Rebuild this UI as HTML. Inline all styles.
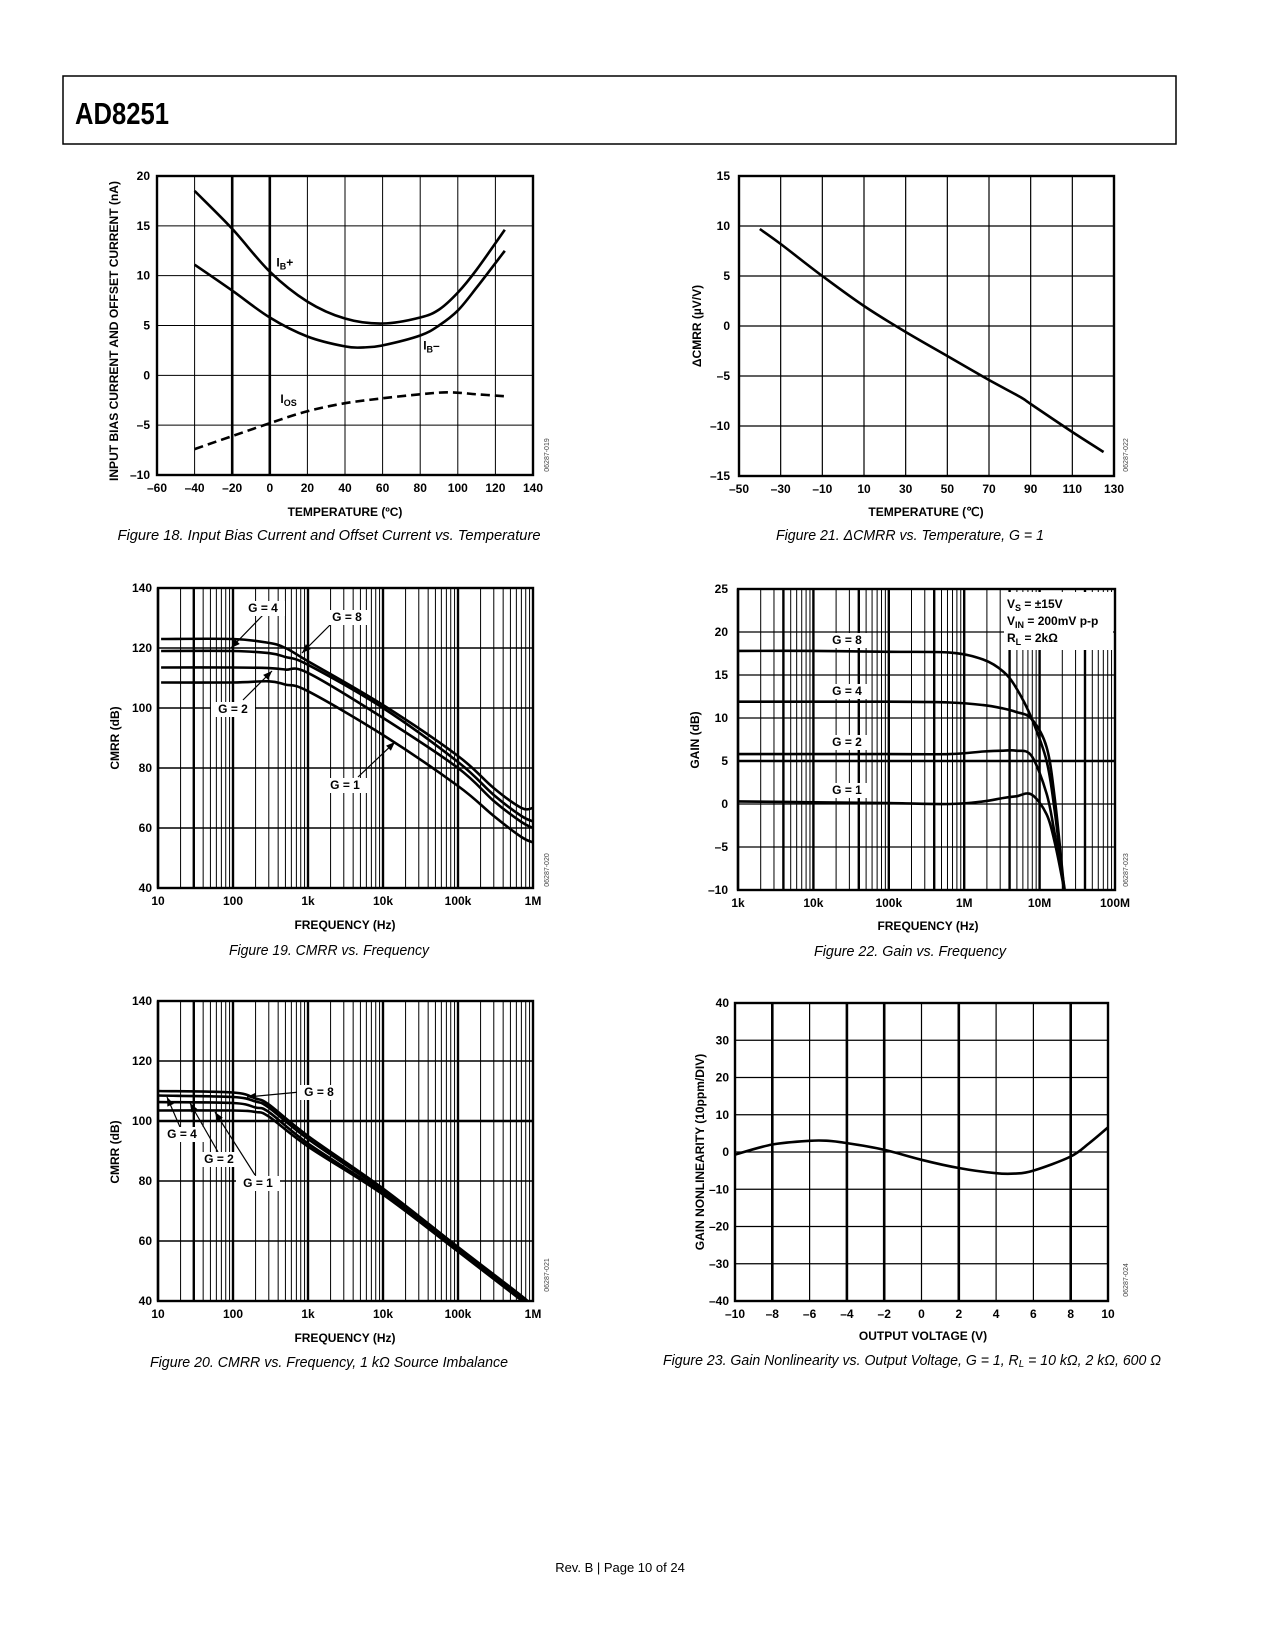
<!DOCTYPE html>
<html><head><meta charset="utf-8"><style>
html,body{margin:0;padding:0;background:#fff}
svg{display:block}
.t{font-family:"Liberation Sans",sans-serif;font-weight:bold;font-size:12px;fill:#000}
.cap{font-family:"Liberation Sans",sans-serif;font-style:italic;font-size:14.5px;fill:#000}
.wm{font-family:"Liberation Sans",sans-serif;font-size:7px;fill:#444}
</style></head><body>
<svg id="page" xmlns="http://www.w3.org/2000/svg" width="1275" height="1650" viewBox="0 0 1275 1650">
<rect x="0" y="0" width="1275" height="1650" fill="#fff"/>
<rect x="63" y="76" width="1113" height="68" fill="none" stroke="#000" stroke-width="1.5"/>
<text x="75" y="124" font-family="'Liberation Sans Narrow','Liberation Sans',sans-serif" font-weight="bold" font-size="31" textLength="94" lengthAdjust="spacingAndGlyphs">AD8251</text>

<g id="c1"></g>
<g id="c2"></g>
<g id="c3"></g>
<g id="c4"></g>
<g id="c5"></g>
<g id="c6"></g>

<!-- axis titles -->
<text class="t" font-size="11.5" transform="translate(118,331) rotate(-90)" text-anchor="middle" textLength="300" lengthAdjust="spacingAndGlyphs">INPUT BIAS CURRENT AND OFFSET CURRENT (nA)</text>
<text class="t" x="345" y="516" text-anchor="middle">TEMPERATURE (ºC)</text>
<text class="t" transform="translate(701,326) rotate(-90)" text-anchor="middle">ΔCMRR (µV/V)</text>
<text class="t" x="926" y="516" text-anchor="middle">TEMPERATURE (℃)</text>
<text class="t" transform="translate(119,738) rotate(-90)" text-anchor="middle">CMRR (dB)</text>
<text class="t" x="345" y="929" text-anchor="middle">FREQUENCY (Hz)</text>
<text class="t" transform="translate(699,740) rotate(-90)" text-anchor="middle">GAIN (dB)</text>
<text class="t" x="928" y="930" text-anchor="middle">FREQUENCY (Hz)</text>
<text class="t" transform="translate(119,1152) rotate(-90)" text-anchor="middle">CMRR (dB)</text>
<text class="t" x="345" y="1342" text-anchor="middle">FREQUENCY (Hz)</text>
<text class="t" transform="translate(704,1152) rotate(-90)" text-anchor="middle">GAIN NONLINEARITY (10ppm/DIV)</text>
<text class="t" x="923" y="1340" text-anchor="middle">OUTPUT VOLTAGE (V)</text>

<!-- captions -->
<text class="cap" x="329" y="540" text-anchor="middle" textLength="423" lengthAdjust="spacingAndGlyphs">Figure 18. Input Bias Current and Offset Current vs. Temperature</text>
<text class="cap" x="910" y="540" text-anchor="middle" textLength="268" lengthAdjust="spacingAndGlyphs">Figure 21. ΔCMRR vs. Temperature, G = 1</text>
<text class="cap" x="329" y="955" text-anchor="middle" textLength="200" lengthAdjust="spacingAndGlyphs">Figure 19. CMRR vs. Frequency</text>
<text class="cap" x="910" y="956" text-anchor="middle" textLength="192" lengthAdjust="spacingAndGlyphs">Figure 22. Gain vs. Frequency</text>
<text class="cap" x="329" y="1367" text-anchor="middle" textLength="358" lengthAdjust="spacingAndGlyphs">Figure 20. CMRR vs. Frequency, 1 kΩ Source Imbalance</text>
<text class="cap" x="912" y="1365" text-anchor="middle" textLength="498" lengthAdjust="spacingAndGlyphs">Figure 23. Gain Nonlinearity vs. Output Voltage, G = 1, R<tspan font-size="10" dy="2">L</tspan><tspan dy="-2"> = 10 kΩ, 2 kΩ, 600 Ω</tspan></text>
<text x="620" y="1572" text-anchor="middle" font-family="'Liberation Sans',sans-serif" font-size="13">Rev. B | Page 10 of 24</text>
</svg>
<script>
// ---------- Chart data ----------
// Fig 18
const c1Temp = [-40,-20,0,20,40,60,80,90,100,110,125];
const c1IBplus = [18.5,14.7,10.4,7.4,5.7,5.2,5.8,6.6,8.3,10.6,14.6];
const c1TempM = [-40,-20,0,20,40,50,60,80,90,100,110,125];
const c1IBminus = [11.1,8.5,5.8,3.9,2.9,2.8,3.0,4.0,5.0,6.5,8.8,12.5];
const c1TempO = [-40,-20,0,20,40,60,80,95,110,125];
const c1IOS = [-7.4,-6.1,-4.8,-3.6,-2.8,-2.3,-1.9,-1.7,-1.9,-2.1];
const c1XTicks = [-60,-40,-20,0,20,40,60,80,100,120,140];
const c1YTicks = [20,15,10,5,0,-5,-10];
// Fig 21
const c2Temp = [-40,-30,-10,10,30,50,70,85,90,110,125];
const c2DCMRR = [9.7,8.2,5.0,2.0,-0.6,-3.0,-5.4,-7.1,-7.8,-10.6,-12.6];
const c2XTicks = [-50,-30,-10,10,30,50,70,90,110,130];
const c2YTicks = [15,10,5,0,-5,-10,-15];
// Fig 19
const c3Freq = [11,100,300,500,1000,10000,100000,300000,700000,1000000];
const c3CurveA = [123,123,121.7,120,115.6,101,84,73.3,66.7,66.7];
const c3CurveB = [119,119,118.3,117,114.4,100,82,71,64,62.2];
const c3CurveC = [113.5,113.5,113.3,112.8,111.7,96.7,80,69,62,60];
const c3CurveD = [108.5,108.5,108.9,107.8,105.6,91,74,64,57,55.2];
const c3XTicks = [10,100,1000,10000,100000,1000000];
const c3XLabels = ['10','100','1k','10k','100k','1M'];
const c3YTicks = [140,120,100,80,60,40];
// Fig 22
const c4Freq = [1000,10000,100000,645000,1780000,3300000,4900000,7800000,12400000,15900000,20600000,23000000];
const c4G8 = [17.8,17.8,17.7,17.6,16.8,15.4,13.5,10,5,-0.9,-9.4,-14];
const c4G4 = [11.9,11.9,11.9,11.8,11.5,11.1,10.7,9.9,6.6,0.6,-8.9,-13];
const c4G2 = [5.8,5.8,5.8,5.8,6.1,6.2,6.2,5.6,1.2,-3.5,-8.9,-12];
const c4G1 = [0.3,0.2,0.1,0.0,0.3,0.7,0.9,1.1,-1.2,-4.5,-9.4,-12];
const c4XTicks = [1000,10000,100000,1000000,10000000,100000000];
const c4XLabels = ['1k','10k','100k','1M','10M','100M'];
const c4YTicks = [25,20,15,10,5,0,-5,-10];
// Fig 20
const c5Freq = [10,100,200,300,1000,10000,100000,720000,800000];
const c5G8 = [110,109.5,107.5,105.5,95,77.5,58,41.5,40];
const c5G4 = [108.5,108,106.5,104.5,94,76.8,57.5,41,39.6];
const c5G2 = [106.3,106,104.5,103,92.5,76,57,40.5,39.3];
const c5G1 = [103.5,103.5,103,101.5,91.5,75.5,56.5,40,39];
const c5YTicks = [140,120,100,80,60,40];
// Fig 23
const c6Vout = [-10,-8,-6,-5,-4,-2,0,2,4,5,6,8,9,10];
const c6NL = [-0.7,2.0,3.0,3.0,2.4,0.6,-2.1,-4.3,-5.7,-5.8,-5.0,-1.2,2.4,6.6];
const c6XTicks = [-10,-8,-6,-4,-2,0,2,4,6,8,10];
const c6YTicks = [40,30,20,10,0,-10,-20,-30,-40];

// ---------- helpers ----------
const NS='http://www.w3.org/2000/svg';
function mk(tag, attrs, parent){const e=document.createElementNS(NS,tag);for(const k in attrs)e.setAttribute(k,attrs[k]);parent.appendChild(e);return e;}
function lin(d0,d1,r0,r1){return v=>r0+(v-d0)/(d1-d0)*(r1-r0);}
function lg(d0,d1,r0,r1){return v=>r0+(Math.log10(v)-Math.log10(d0))/(Math.log10(d1)-Math.log10(d0))*(r1-r0);}
function smooth(pts){
  let d='M'+pts[0][0].toFixed(1)+','+pts[0][1].toFixed(1);
  for(let i=0;i<pts.length-1;i++){
    const p0=pts[i-1]||pts[i],p1=pts[i],p2=pts[i+1],p3=pts[i+2]||pts[i+1];
    const c1=[p1[0]+(p2[0]-p0[0])/6,p1[1]+(p2[1]-p0[1])/6];
    const c2=[p2[0]-(p3[0]-p1[0])/6,p2[1]-(p3[1]-p1[1])/6];
    d+=' C'+c1[0].toFixed(1)+','+c1[1].toFixed(1)+' '+c2[0].toFixed(1)+','+c2[1].toFixed(1)+' '+p2[0].toFixed(1)+','+p2[1].toFixed(1);
  }
  return d;
}
function vline(g,x,b,w,name){
  const l=mk('line',{x1:x,x2:x,y1:b.t,y2:b.b,stroke:'#000','stroke-width':w},g);
  
  
}
function hline(g,y,b,w,name){
  const l=mk('line',{x1:b.l,x2:b.r,y1:y,y2:y,stroke:'#000','stroke-width':w},g);
  
  
}
function frame(g,b){
  const r=mk('rect',{x:b.l,y:b.t,width:b.r-b.l,height:b.b-b.t,fill:'none',stroke:'#000','stroke-width':2.4},g);
  
  
}
function xLabels(g,xs,vals,labels,y){
  vals.forEach((v,i)=>{
    const t=mk('text',{x:xs(v),y:y,'text-anchor':'middle',class:'t'},g);
    t.textContent=labels?labels[i]:String(v).replace('-','–');
    
    
  });
}
function yLabels(g,ys,vals,x){
  vals.forEach(v=>{
    const t=mk('text',{x:x,y:ys(v)+4,'text-anchor':'end',class:'t'},g);
    t.textContent=String(v).replace('-','–');
    
    
  });
}
function curve(g,xs,ys,X,Y,name,dash,clip){
  const pts=X.map((x,i)=>[xs(x),ys(Y[i])]);
  const a={d:smooth(pts),fill:'none',stroke:'#000','stroke-width':2.6,'stroke-linejoin':'round'};
  if(dash)a['stroke-dasharray']=dash;
  if(clip)a['clip-path']=clip;
  const p=mk('path',a,g);
  
  
}
function label(g,x,y,txt,name,bg){
  if(bg){const r=mk('rect',{x:x-22,y:y-11,width:44,height:15,fill:'#fff'},g);
    
    }
  const t=mk('text',{x:x,y:y,'text-anchor':'middle',class:'t'},g);
  t.textContent=txt;
  
  
  return t;
}
function arrow(g,x1,y1,x2,y2,name){
  const l=mk('line',{x1:x1,y1:y1,x2:x2,y2:y2,stroke:'#000','stroke-width':1.2},g);
  
  
  const a=Math.atan2(y2-y1,x2-x1),L=9,W=3.5;
  const bx=x2-L*Math.cos(a),by=y2-L*Math.sin(a);
  const p=mk('polygon',{points:`${x2},${y2} ${bx-W*Math.sin(a)},${by+W*Math.cos(a)} ${bx+W*Math.sin(a)},${by-W*Math.cos(a)}`,fill:'#000'},g);
  
  
}
function wm(g,x,y,txt){
  const t=mk('text',{class:'wm',transform:`translate(${x},${y}) rotate(-90)`,'text-anchor':'middle'},g);
  t.textContent=txt;
  
  
}
function logGrid(g,b,xs,d0,d1,thickExtra){
  for(let d=d0;d<d1;d*=10){
    for(let k=1;k<10;k++){
      const f=d*k;
      const thick=(k===1)||(thickExtra&&thickExtra(f));
      vline(g,xs(f),b,thick?2.4:1,'grid-vertical');
    }
  }
}

// ---------- Chart 1 ----------
(function(){
  const g=document.getElementById('c1');
  const b={l:157,r:533,t:176,b:475};
  const xs=lin(-60,140,b.l,b.r), ys=lin(20,-10,b.t,b.b);
  c1XTicks.forEach(v=>{ if(v>-60&&v<140) vline(g,xs(v),b,(v===-20||v===0)?2.6:1,'grid-vertical'); });
  c1YTicks.forEach(v=>{ if(v<20&&v>-10) hline(g,ys(v),b,1,'grid-horizontal'); });
  frame(g,b);
  curve(g,xs,ys,c1Temp,c1IBplus,'series-ib-plus');
  curve(g,xs,ys,c1TempM,c1IBminus,'series-ib-minus');
  curve(g,xs,ys,c1TempO,c1IOS,'series-ios','9,5');
  xLabels(g,xs,c1XTicks,null,b.b+17);
  yLabels(g,ys,c1YTicks,b.l-7);
  const t1=label(g,xs(8),ys(10.9),'I','label-ib-plus'); const s1=mk('tspan',{'font-size':9,dy:3},t1); s1.textContent='B'; const s1b=mk('tspan',{dy:-3},t1); s1b.textContent='+';
  const t2=label(g,xs(86),ys(2.6),'I','label-ib-minus'); const s2=mk('tspan',{'font-size':9,dy:3},t2); s2.textContent='B'; const s2b=mk('tspan',{dy:-3},t2); s2b.textContent='–';
  const t3=label(g,xs(10),ys(-2.8),'I','label-ios'); const s3=mk('tspan',{'font-size':9,dy:3},t3); s3.textContent='OS';
  wm(g,549,455,'06287-019');
})();

// ---------- Chart 2 ----------
(function(){
  const g=document.getElementById('c2');
  const b={l:739,r:1114,t:176,b:476};
  const xs=lin(-50,130,b.l,b.r), ys=lin(15,-15,b.t,b.b);
  c2XTicks.forEach(v=>{ if(v>-50&&v<130) vline(g,xs(v),b,1.2,'grid-vertical'); });
  c2YTicks.forEach(v=>{ if(v<15&&v>-15) hline(g,ys(v),b,1.2,'grid-horizontal'); });
  frame(g,b);
  curve(g,xs,ys,c2Temp,c2DCMRR,'series-delta-cmrr');
  xLabels(g,xs,c2XTicks,null,b.b+17);
  yLabels(g,ys,c2YTicks,b.l-9);
  wm(g,1128,455,'06287-022');
})();

// ---------- Chart 3 ----------
(function(){
  const g=document.getElementById('c3');
  const b={l:158,r:533,t:588,b:888};
  const xs=lg(10,1e6,b.l,b.r), ys=lin(140,40,b.t,b.b);
  logGrid(g,b,xs,10,1e6,f=>f===30);
  c3YTicks.forEach(v=>{ if(v<140&&v>40) hline(g,ys(v),b,1.4,'grid-horizontal'); });
  frame(g,b);
  curve(g,xs,ys,c3Freq,c3CurveA,'series-cmrr-a');
  curve(g,xs,ys,c3Freq,c3CurveB,'series-cmrr-b');
  curve(g,xs,ys,c3Freq,c3CurveC,'series-cmrr-c');
  curve(g,xs,ys,c3Freq,c3CurveD,'series-cmrr-d');
  xLabels(g,xs,c3XTicks,c3XLabels,b.b+17);
  yLabels(g,ys,c3YTicks,b.l-6);
  arrow(g,263,615,231,648,'arrow-g4'); label(g,263,612,'G = 4','label-g4',true);
  arrow(g,330,625,302,653,'arrow-g8'); label(g,347,621,'G = 8','label-g8',true);
  arrow(g,243,700,272,671,'arrow-g2'); label(g,233,713,'G = 2','label-g2',true);
  arrow(g,358,777,395,742,'arrow-g1'); label(g,345,789,'G = 1','label-g1',true);
  wm(g,549,870,'06287-020');
})();

// ---------- Chart 4 ----------
(function(){
  const g=document.getElementById('c4');
  const b={l:738,r:1115,t:589,b:890};
  const xs=lg(1e3,1e8,b.l,b.r), ys=lin(25,-10,b.t,b.b);
  const cp=mk('clipPath',{id:'clip4'},g); mk('rect',{x:b.l,y:b.t,width:b.r-b.l,height:b.b-b.t},cp);
  logGrid(g,b,xs,1e3,1e8,f=>{const m=f/Math.pow(10,Math.floor(Math.log10(f)+1e-9));return Math.abs(m-4)<1e-6;});
  c4YTicks.forEach(v=>{ if(v<25&&v>-10) hline(g,ys(v),b,v===5?2.6:1.2,'grid-horizontal'); });
  const lb=mk('rect',{x:1004,y:592,width:109,height:58,fill:'#fff'},g);
  
  
  frame(g,b);
  curve(g,xs,ys,c4Freq,c4G8,'series-gain-g8',null,'url(#clip4)');
  curve(g,xs,ys,c4Freq,c4G4,'series-gain-g4',null,'url(#clip4)');
  curve(g,xs,ys,c4Freq,c4G2,'series-gain-g2',null,'url(#clip4)');
  curve(g,xs,ys,c4Freq,c4G1,'series-gain-g1',null,'url(#clip4)');
  xLabels(g,xs,c4XTicks,c4XLabels,b.b+17);
  yLabels(g,ys,c4YTicks,b.l-10);
  label(g,847,644,'G = 8','label-g8',true);
  label(g,847,695,'G = 4','label-g4',true);
  label(g,847,746,'G = 2','label-g2',true);
  label(g,847,794,'G = 1','label-g1',true);
  const L1=mk('text',{x:1007,y:608,class:'t'},g); L1.textContent='V'; let s=mk('tspan',{'font-size':9,dy:3},L1); s.textContent='S'; s=mk('tspan',{dy:-3},L1); s.textContent=' = ±15V';
  
  
  const L2=mk('text',{x:1007,y:625,class:'t'},g); L2.textContent='V'; s=mk('tspan',{'font-size':9,dy:3},L2); s.textContent='IN'; s=mk('tspan',{dy:-3},L2); s.textContent=' = 200mV p-p';
  
  
  const L3=mk('text',{x:1007,y:642,class:'t'},g); L3.textContent='R'; s=mk('tspan',{'font-size':9,dy:3},L3); s.textContent='L'; s=mk('tspan',{dy:-3},L3); s.textContent=' = 2kΩ';
  
  
  wm(g,1128,870,'06287-023');
})();

// ---------- Chart 5 ----------
(function(){
  const g=document.getElementById('c5');
  const b={l:158,r:533,t:1001,b:1301};
  const xs=lg(10,1e6,b.l,b.r), ys=lin(140,40,b.t,b.b);
  const cp=mk('clipPath',{id:'clip5'},g); mk('rect',{x:b.l,y:b.t,width:b.r-b.l,height:b.b-b.t},cp);
  logGrid(g,b,xs,10,1e6,f=>f===30);
  c5YTicks.forEach(v=>{ if(v<140&&v>40) hline(g,ys(v),b,v===100?2.4:1.4,'grid-horizontal'); });
  frame(g,b);
  curve(g,xs,ys,c5Freq,c5G8,'series-cmrr-g8',null,'url(#clip5)');
  curve(g,xs,ys,c5Freq,c5G4,'series-cmrr-g4',null,'url(#clip5)');
  curve(g,xs,ys,c5Freq,c5G2,'series-cmrr-g2',null,'url(#clip5)');
  curve(g,xs,ys,c5Freq,c5G1,'series-cmrr-g1',null,'url(#clip5)');
  xLabels(g,xs,c3XTicks,c3XLabels,b.b+17);
  yLabels(g,ys,c5YTicks,b.l-6);
  arrow(g,300,1092,247,1097,'arrow-g8'); label(g,319,1096,'G = 8','label-g8',true);
  arrow(g,180,1127,167,1097,'arrow-g4'); label(g,182,1138,'G = 4','label-g4',true);
  arrow(g,218,1152,190,1103,'arrow-g2'); label(g,219,1163,'G = 2','label-g2',true);
  arrow(g,255,1175,215,1112,'arrow-g1'); label(g,258,1187,'G = 1','label-g1',true);
  wm(g,549,1275,'06287-021');
})();

// ---------- Chart 6 ----------
(function(){
  const g=document.getElementById('c6');
  const b={l:735,r:1108,t:1003,b:1301};
  const xs=lin(-10,10,b.l,b.r), ys=lin(40,-40,b.t,b.b);
  c6XTicks.forEach(v=>{ if(v>-10&&v<10) vline(g,xs(v),b,([-8,-4,-2,2,8].indexOf(v)>=0)?2.6:1.2,'grid-vertical'); });
  c6YTicks.forEach(v=>{ if(v<40&&v>-40) hline(g,ys(v),b,1.2,'grid-horizontal'); });
  frame(g,b);
  curve(g,xs,ys,c6Vout,c6NL,'series-nonlinearity');
  xLabels(g,xs,c6XTicks,null,b.b+17);
  yLabels(g,ys,c6YTicks,b.l-6);
  wm(g,1128,1280,'06287-024');
})();
</script>
</body></html>
